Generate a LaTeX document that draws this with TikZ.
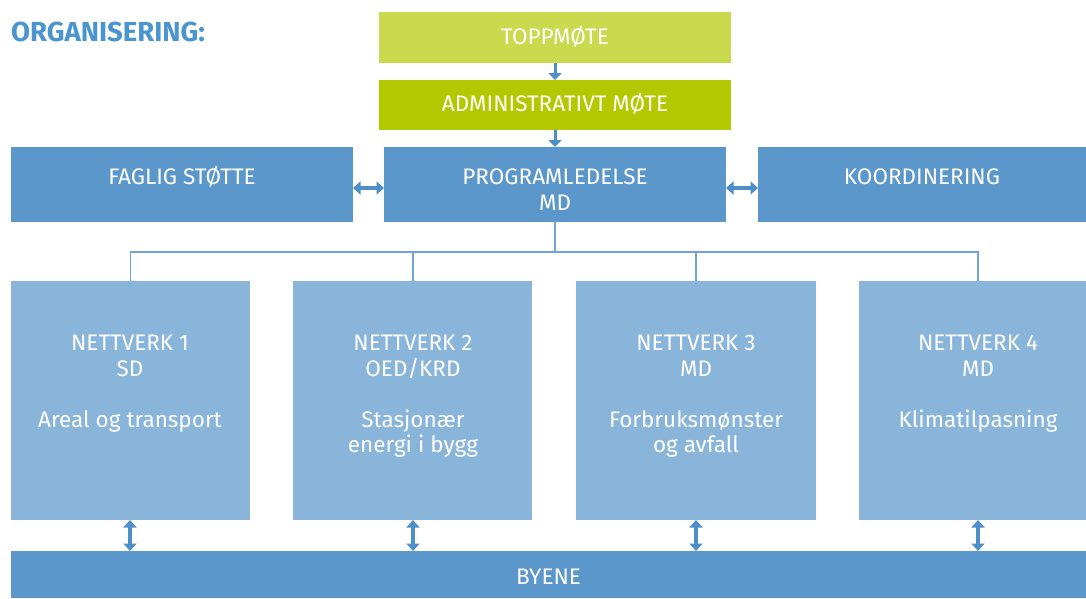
\documentclass[tikz,border=0pt]{standalone}
\usepackage{fontspec}
\setmainfont{Fira Sans}
\usetikzlibrary{arrows.meta}
\definecolor{titleblue}{HTML}{4A94CF}
\definecolor{midblue}{HTML}{5B97CB}
\definecolor{lightblue}{HTML}{8AB5DA}
\definecolor{lightgreen}{HTML}{C9DA4E}
\definecolor{darkgreen}{HTML}{B4C800}
\definecolor{arrowblue}{HTML}{4F8FC9}
\definecolor{lineblue}{HTML}{6FA5D4}
\tikzset{
  box/.style={draw=none, fill=#1, inner sep=0pt, outer sep=0pt, anchor=north west},
  txt/.style={text=white, align=center, inner sep=0pt, font=\fontsize{22.5}{25.5}\selectfont},
  conn/.style={draw=lineblue, line width=1.5pt},
  varrow/.style={draw=arrowblue, line width=3pt, -{Triangle[width=13pt,length=7pt]}},
  darrow/.style={draw=arrowblue, line width=3.5pt, {Triangle[width=13pt,length=7.5pt]}-{Triangle[width=13pt,length=7.5pt]}},
}
\begin{document}
\begin{tikzpicture}[x=1pt,y=-1pt]
\useasboundingbox (0,0) rectangle (1086,598);
\node[anchor=base west, inner sep=0pt, text=titleblue, font=\fontsize{27.5}{32}\selectfont\bfseries] (title) at (11,41) {ORGANISERING:};
% top boxes
\node[box=lightgreen, minimum width=352pt, minimum height=51pt] (topp) at (379,12) {};
\node[txt] (toppt) at (555,37) {TOPPMØTE};
\node[box=darkgreen, minimum width=352pt, minimum height=50pt] (adm) at (379,80) {};
\node[txt] (admt) at (555,104) {ADMINISTRATIVT MØTE};
% middle row
\node[box=midblue, minimum width=342pt, minimum height=75pt] (fag) at (11,147) {};
\node[txt] (fagt) at (182,177) {FAGLIG STØTTE};
\node[box=midblue, minimum width=342pt, minimum height=75pt] (prog) at (384,147) {};
\node[txt, anchor=north] (progt) at (555,169) {PROGRAMLEDELSE\\MD};
\node[box=midblue, minimum width=328pt, minimum height=75pt] (koord) at (758,147) {};
\node[txt] (koordt) at (922,177) {KOORDINERING};
% nettverk
\node[box=lightblue, minimum width=239pt, minimum height=239pt] (n1) at (11,281) {};
\node[txt, anchor=north] (n1t) at (130,335) {NETTVERK 1\\SD\\[25.5pt]Areal og transport};
\node[box=lightblue, minimum width=239pt, minimum height=239pt] (n2) at (293,281) {};
\node[txt, anchor=north] (n2t) at (413,335) {NETTVERK 2\\OED/KRD\\[25.5pt]Stasjonær\\energi i bygg};
\node[box=lightblue, minimum width=240pt, minimum height=239pt] (n3) at (576,281) {};
\node[txt, anchor=north] (n3t) at (696,335) {NETTVERK 3\\MD\\[25.5pt]Forbruksmønster\\og avfall};
\node[box=lightblue, minimum width=227pt, minimum height=239pt] (n4) at (859,281) {};
\node[txt, anchor=north] (n4t) at (978,335) {NETTVERK 4\\MD\\[25.5pt]Klimatilpasning};
% byene
\node[box=midblue, minimum width=1075pt, minimum height=47pt] (byene) at (11,551) {};
\node[txt] (byenet) at (548.5,577) {BYENE};
% arrows
\draw[varrow] (topp.south) -- (adm.north);
\draw[varrow] (adm.south) -- (prog.north);
\draw[darrow] (fag.east |- 0,188) -- (prog.west |- 0,188);
\draw[darrow] (prog.east |- 0,188) -- (koord.west |- 0,188);
\coordinate (bus) at (555,252);
\draw[conn] (prog.south) -- (bus);
\draw[conn] ([xshift=119.5pt]n1.north west) |- (bus);
\draw[conn] ([xshift=119pt]n4.north west) |- (bus);
\draw[conn] ([xshift=120pt]n2.north west) -- ([xshift=120pt]n2.north west |- bus);
\draw[conn] ([xshift=120pt]n3.north west) -- ([xshift=120pt]n3.north west |- bus);
\foreach \x in {130,413,696,978}{
  \draw[darrow] (\x,520) -- (\x,551);
}
\end{tikzpicture}
\end{document}
